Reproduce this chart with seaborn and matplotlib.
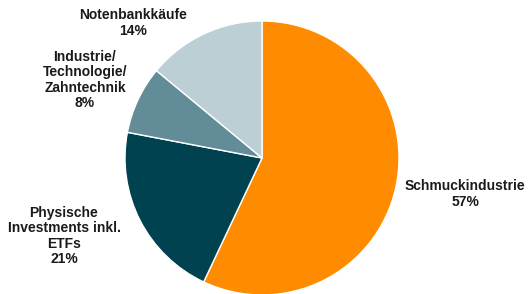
import seaborn as sns
import matplotlib.pyplot as plt
import numpy as np

labels = ["Schmuckindustrie", "Physische\nInvestments inkl.\nETFs",
          "Industrie/\nTechnologie/\nZahntechnik", "Notenbankkäufe"]
shares = [57, 21, 8, 14]
colors = ["#FF8C00", "#004250", "#628C97", "#BCCFD4"]

sns.set_style("white")
plt.rcParams['font.family'] = ['Liberation Sans', 'DejaVu Sans']

W, H = 529, 294
fig = plt.figure(figsize=(W / 100, H / 100), dpi=100)
cx, cy, r = 262, 158, 137
ax = fig.add_axes([(cx - r) / W, (H - cy - r) / H, 2 * r / W, 2 * r / H])

ax.pie(shares, colors=colors, startangle=90, counterclock=False, radius=1,
       wedgeprops=dict(edgecolor="white", linewidth=1))
ax.set_xlim(-1, 1)
ax.set_ylim(-1, 1)
ax.set_aspect("equal")
ax.axis("off")

# label anchor points in pixels of the reference
label_pos = [(465, 194), (64, 236), (85, 80), (133, 23)]
for lab, val, (px, py) in zip(labels, shares, label_pos):
    x = (px - cx) / r
    y = (cy - py) / r
    ax.text(x, y, f"{lab}\n{val}%", ha="center", va="center", fontsize=10,
            fontweight="bold", color="#1a1a1a", linespacing=1.1, clip_on=False)

fig.savefig("out.png", dpi=100)
